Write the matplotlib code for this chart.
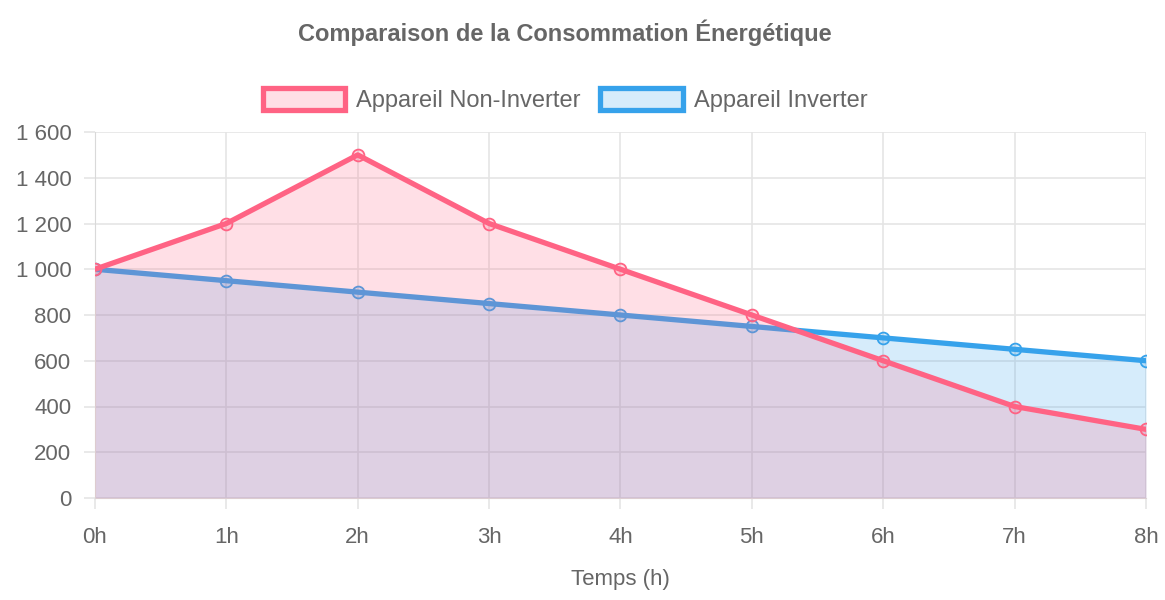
import matplotlib
matplotlib.use('Agg')
from matplotlib import pyplot as plt
from matplotlib.patches import Patch
from matplotlib.ticker import FuncFormatter

plt.rcParams['font.family'] = ['Liberation Sans', 'DejaVu Sans']

hours = ['0h', '1h', '2h', '3h', '4h', '5h', '6h', '7h', '8h']
non_inverter = [1000, 1200, 1500, 1200, 1000, 800, 600, 400, 300]
inverter = [1000, 950, 900, 850, 800, 750, 700, 650, 600]

pink = (255/255, 99/255, 132/255)
blue = (54/255, 162/255, 235/255)
txt = '#666666'
grid = '#e5e5e5'

fig = plt.figure(figsize=(11.65, 6.0), dpi=100)
ax = fig.add_axes([0.0815, 0.17, 0.9022, 0.61])

x = list(range(len(hours)))

# blue first so the pink dataset sits on top (like chart.js)
for vals, col, z in [(inverter, blue, 2), (non_inverter, pink, 3)]:
    ax.fill_between(x, 0, vals, color=col, alpha=0.2, linewidth=0, zorder=z)
    ax.plot(x, vals, color=col, linewidth=3.8, zorder=z + 0.1,
            solid_capstyle='round', solid_joinstyle='round')
    ax.plot(x, vals, linestyle='none', marker='o', markersize=8.5,
            markerfacecolor=(*col, 0.2), markeredgecolor=col,
            markeredgewidth=1.3, zorder=z + 0.2)

ax.set_xlim(0, 8)
ax.set_ylim(0, 1600)
ax.set_xticks(x)
ax.set_xticklabels(hours)
ax.set_yticks(range(0, 1601, 200))
ax.yaxis.set_major_formatter(FuncFormatter(lambda v, p: '{:,}'.format(int(v)).replace(',', ' ')))

ax.grid(True, color=grid, linewidth=1.2, zorder=0)
ax.set_axisbelow(True)
for s in ax.spines.values():
    s.set_visible(False)
ax.spines['left'].set_visible(True)
ax.spines['bottom'].set_visible(True)
ax.spines['left'].set_color('#d9d9d9')
ax.spines['bottom'].set_color('#d9d9d9')
ax.tick_params(axis='both', colors=grid, labelcolor=txt, labelsize=16, length=8, width=1.2)
ax.tick_params(axis='x', pad=13)
ax.tick_params(axis='y', pad=9)

ax.set_xlabel('Temps (h)', color=txt, fontsize=16, labelpad=15)

fig.suptitle('Comparaison de la Consommation Énergétique', x=0.485, y=0.967,
             fontsize=17, fontweight='bold', color=txt)

handles = [Patch(facecolor=(*pink, 0.2), edgecolor=pink, linewidth=3.8, label='Appareil Non-Inverter'),
           Patch(facecolor=(*blue, 0.2), edgecolor=blue, linewidth=3.8, label='Appareil Inverter')]
fig.legend(handles=handles, loc='center', bbox_to_anchor=(0.485, 0.833), ncol=2,
           frameon=False, fontsize=17, labelcolor=txt, handlelength=3.5,
           handleheight=1.0, handletextpad=0.45, columnspacing=0.85)

fig.savefig('out.png', dpi=100)
